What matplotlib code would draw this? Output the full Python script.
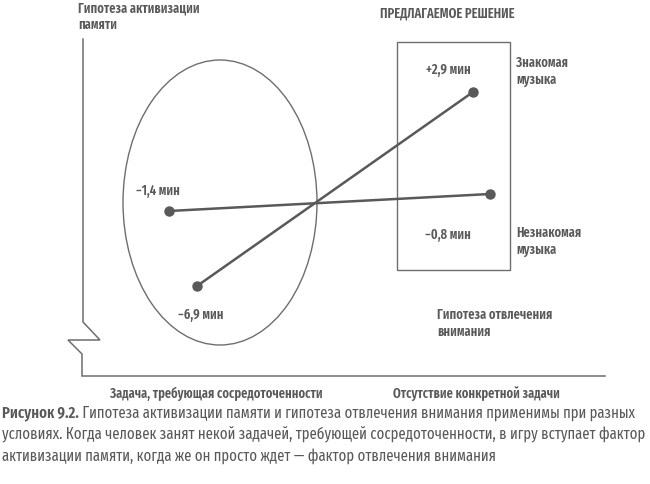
import matplotlib
matplotlib.use("Agg")
import matplotlib.pyplot as plt
from matplotlib import font_manager
from matplotlib.patches import Ellipse, Rectangle

# --- Data (schematic diagram, positions)
conditions = ['Задача, требующая сосредоточенности', 'Отсутствие конкретной задачи']
series_names = ['Знакомая\nмузыка', 'Незнакомая\nмузыка']
effects = {
    'familiar': [-6.9, 2.9],
    'unfamiliar': [-1.4, -0.8],
}
# diagram coordinates of the points for each condition
familiar_x = [197, 473]
familiar_y = [287, 93]
unfamiliar_x = [169, 490]
unfamiliar_y = [212, 195]

caption_bold = 'Рисунок 9.2.'
caption_text = [
    ' Гипотеза активизации памяти и гипотеза отвлечения внимания применимы при разных',
    'условиях. Когда человек занят некой задачей, требующей сосредоточенности, в игру вступает фактор',
    'активизации памяти, когда же он просто ждет — фактор отвлечения внимания',
]

# --- pick a narrow font
names = {f.name for f in font_manager.fontManager.ttflist}
family = 'DejaVu Sans'
for cand in ['Fira Sans Extra Condensed', 'PT Sans Narrow', 'Roboto Condensed',
             'Fira Sans Condensed', 'Liberation Sans Narrow']:
    if cand in names:
        family = cand
        break
plt.rcParams['font.family'] = [family, 'DejaVu Sans']

grey = '#595959'
light = '#6e6e6e'
label_weight = 'semibold'
cap_weight = 'normal'


def fmt(v):
    s = f'{v:+.1f}'.replace('.', ',').replace('-', '−')
    return s + ' мин'


fig = plt.figure(figsize=(6.5, 4.85), dpi=100)
ax = fig.add_axes([0, 0, 1, 1])
ax.set_xlim(0, 650)
ax.set_ylim(485, 0)
ax.axis('off')
renderer = fig.canvas.get_renderer()


def width_px(s, **kw):
    t = ax.text(0, 0, s, fontsize=10, **kw)
    w = t.get_window_extent(renderer).width
    t.remove()
    return w


# work out font sizes from the widths seen in the figure
label_size = 10 * 212 / width_px(conditions[0], fontweight=label_weight)
w1 = width_px(caption_bold, fontweight='semibold') + width_px(caption_text[0], fontweight=cap_weight)
w2 = width_px(caption_text[1], fontweight=cap_weight)
cap_size = 10 * 644 / max(w1, w2)

# axes frame with a break in the vertical axis
ax.plot([83, 83, 100, 68, 82, 82, 605], [40, 323, 341, 341, 355, 377, 377],
        color=light, lw=1.1, solid_joinstyle='miter')

# ellipse and box
ax.add_patch(Ellipse((220, 203.5), 194, 285, fill=False, ec=light, lw=1.0))
ax.add_patch(Rectangle((397, 43), 113, 228, fill=False, ec=light, lw=1.0))

# lines
ax.plot(familiar_x, familiar_y, color=grey, lw=1.8, marker='o', ms=6.5)
ax.plot(unfamiliar_x, unfamiliar_y, color=grey, lw=1.8, marker='o', ms=6.5)

tkw = dict(color=grey, fontsize=label_size, fontweight=label_weight)
ax.text(78, 1, 'Гипотеза активизации\nпамяти', va='top', ha='left', linespacing=1.2, **tkw)
ax.text(380, 13, 'ПРЕДЛАГАЕМОЕ РЕШЕНИЕ', va='center', ha='left', **tkw)
ax.text(448, 70, fmt(effects['familiar'][1]), va='center', ha='center', **tkw)
ax.text(448, 235, fmt(effects['unfamiliar'][1]), va='center', ha='center', **tkw)
ax.text(136, 191, fmt(effects['unfamiliar'][0]), va='center', ha='left', **tkw)
ax.text(178, 315, fmt(effects['familiar'][0]), va='center', ha='left', **tkw)
ax.text(516, 56, series_names[0], va='top', ha='left', linespacing=1.2, **tkw)
ax.text(516, 226, series_names[1], va='top', ha='left', linespacing=1.2, **tkw)
ax.text(437, 308, 'Гипотеза отвлечения\nвнимания', va='top', ha='left', linespacing=1.2, **tkw)

ax.text(216, 394, conditions[0], va='center', ha='center', **tkw)
ax.text(476, 394, conditions[1], va='center', ha='center', **tkw)

# caption
cap = dict(color=grey, fontsize=cap_size, va='center', ha='left')
t = ax.text(2, 413, caption_bold, fontweight='semibold', **cap)
bb = t.get_window_extent(renderer).transformed(ax.transData.inverted())
ax.text(bb.x1, 413, caption_text[0], fontweight=cap_weight, **cap)
ax.text(2, 435, caption_text[1], fontweight=cap_weight, **cap)
ax.text(2, 456, caption_text[2], fontweight=cap_weight, **cap)

fig.savefig('out.png', dpi=100)
